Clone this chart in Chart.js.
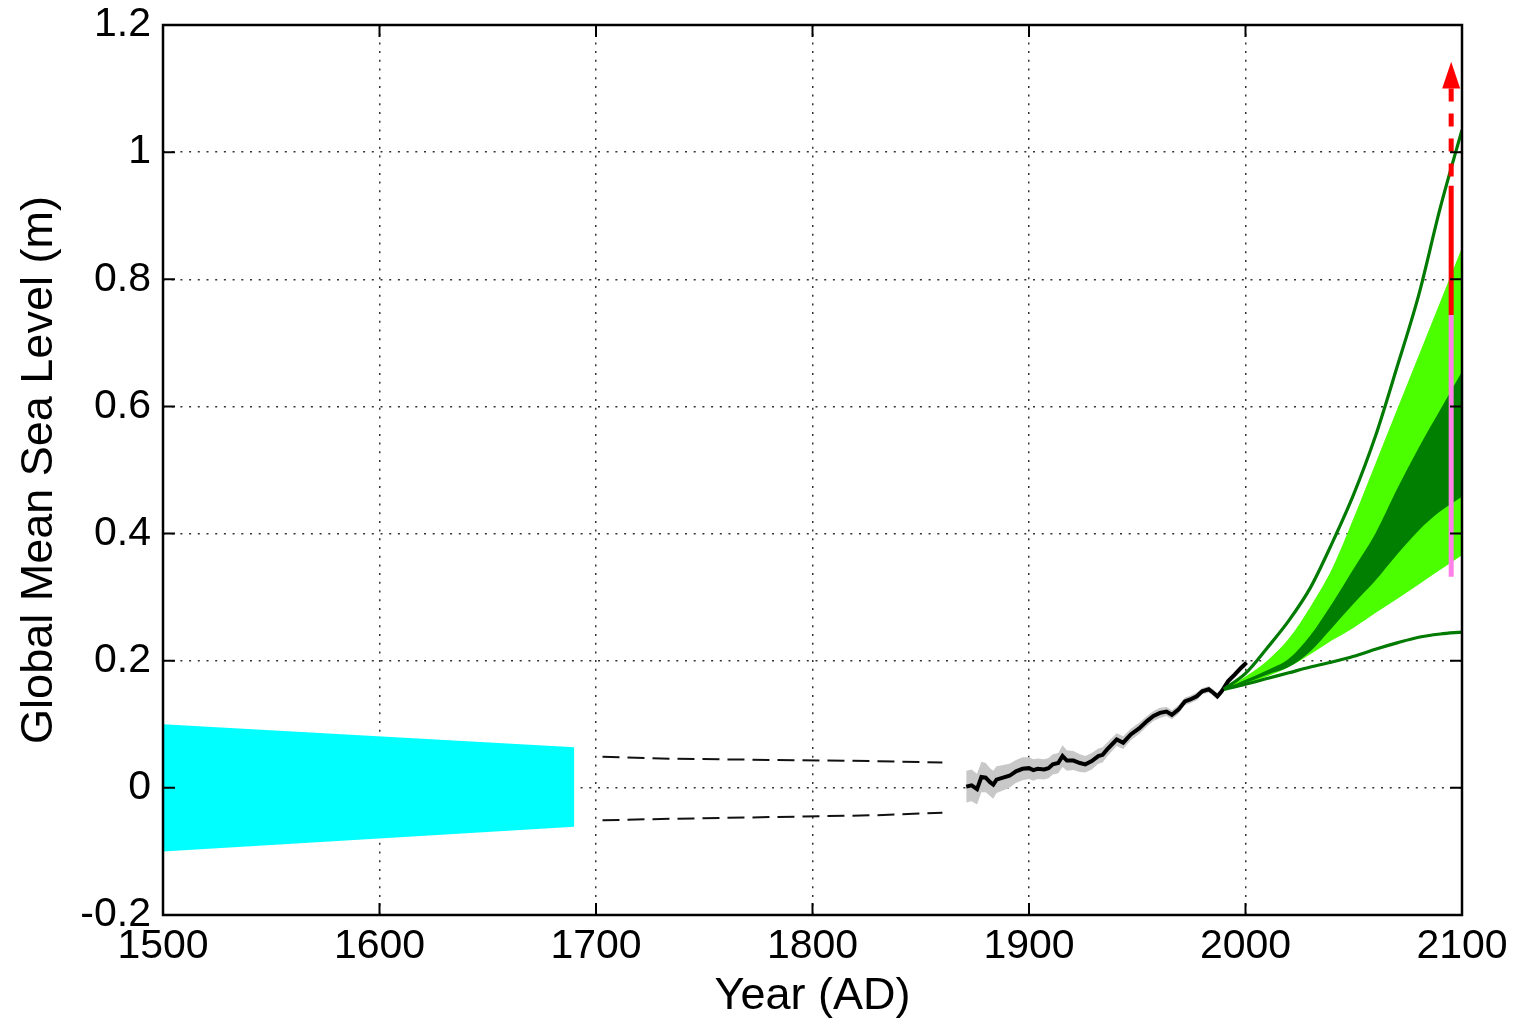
<!DOCTYPE html>
<html><head><meta charset="utf-8">
<script src="https://cdn.jsdelivr.net/npm/chart.js@4.4.1/dist/chart.umd.min.js"></script>
<style>html,body{margin:0;padding:0;background:#fff;}canvas{display:block;}</style>
</head><body>
<canvas id="c" width="1513" height="1028"></canvas>
<script>
// ---- axis ticks ----
const xTicks = [1500, 1600, 1700, 1800, 1900, 2000, 2100];
const xTickLabels = ['1500', '1600', '1700', '1800', '1900', '2000', '2100'];
const yTicks = [-0.2, 0, 0.2, 0.4, 0.6, 0.8, 1.0, 1.2];
const yTickLabels = ['-0.2', '0', '0.2', '0.4', '0.6', '0.8', '1', '1.2'];

// ---- 1500-1690 band (cyan) ----
const cyanYears = [1500, 1690];
const cyanUpper = [0.100, 0.064];
const cyanLower = [-0.100, -0.061];

// ---- 1700-1860 dashed bounds ----
const dashYears = [1703, 1730, 1780, 1830, 1860];
const dashUpper = [0.049, 0.046, 0.044, 0.042, 0.040];
const dashLower = [-0.051, -0.049, -0.046, -0.043, -0.039];

// ---- tide gauge record ----
const tideYears = [1871,1873.5,1876,1878,1880,1882,1883.5,1885,1888,1891,1894,1897,1900,1902,1904,1907,1909,1911,1913.5,1915.5,1917.5,1920.5,1923.5,1926,1929,1932,1934,1936,1940.5,1943.5,1947,1951,1954.5,1957.5,1960.5,1963.5,1966,1969,1972,1974.5,1977.5,1980,1983,1985,1987,1989,1992,1995,1998,2000.5];
const tideLevel = [0.002,0.004,-0.002,0.017,0.016,0.009,0.005,0.013,0.016,0.019,0.026,0.030,0.031,0.028,0.030,0.029,0.031,0.037,0.039,0.050,0.043,0.043,0.039,0.037,0.042,0.050,0.052,0.060,0.076,0.071,0.084,0.094,0.105,0.113,0.118,0.120,0.115,0.123,0.136,0.139,0.144,0.152,0.155,0.150,0.144,0.152,0.168,0.178,0.189,0.197];
const tideErr = [0.025,0.025,0.024,0.024,0.023,0.022,0.022,0.021,0.020,0.019,0.018,0.018,0.017,0.017,0.016,0.016,0.016,0.016,0.016,0.017,0.016,0.015,0.014,0.013,0.013,0.012,0.012,0.011,0.010,0.010,0.009,0.009,0.008,0.008,0.008,0.007,0.007,0.007,0.006,0.006,0.006,0.005,0.005,0.005,0.005,0.005,0.005,0.005,0.005,0.005];

// ---- projections 1990-2100 ----
const projYears = [1990, 2000, 2010, 2020, 2030, 2040, 2050, 2060, 2070, 2080, 2090, 2100];
const projHigh   = [0.155, 0.180, 0.220, 0.263, 0.315, 0.385, 0.462, 0.553, 0.662, 0.775, 0.913, 1.035];
const lightUpper = [0.155, 0.175, 0.200, 0.235, 0.285, 0.345, 0.425, 0.510, 0.595, 0.680, 0.765, 0.850];
const darkUpper  = [0.155, 0.170, 0.185, 0.203, 0.240, 0.290, 0.345, 0.400, 0.470, 0.535, 0.595, 0.655];
const darkLower  = [0.155, 0.165, 0.178, 0.190, 0.215, 0.252, 0.290, 0.326, 0.367, 0.405, 0.435, 0.458];
const lightLower = [0.155, 0.163, 0.175, 0.190, 0.210, 0.232, 0.252, 0.275, 0.297, 0.320, 0.343, 0.366];
const projLow    = [0.155, 0.163, 0.172, 0.181, 0.190, 0.198, 0.207, 0.218, 0.228, 0.237, 0.242, 0.245];

// ---- 2095 bar and arrow ----
const barYear = 2095;
const pinkRange = [0.332, 0.744];
const redRange = [0.744, 0.947];
const redDashRange = [1.100, 0.947];
const arrowTip = 1.142;

const FONT = "'Liberation Sans', Arial, Helvetica, sans-serif";
const pts = (xs, ys) => xs.map((x, i) => ({x: x, y: ys[i]}));
const vbar = (yr, r) => r.map(v => ({x: yr, y: v}));

const base = {pointRadius: 0, pointHoverRadius: 0, tension: 0, fill: false};
const datasets = [
  /*0*/ {...base, data: pts(cyanYears, cyanUpper), borderWidth: 0, backgroundColor: '#00ffff', fill: {target: 1}, order: 20},
  /*1*/ {...base, data: pts(cyanYears, cyanLower), borderWidth: 0, order: 20},
  /*2*/ {...base, data: pts(projYears, lightUpper), borderWidth: 0, backgroundColor: '#4cff00', fill: {target: 3}, cubicInterpolationMode: 'monotone', order: 19},
  /*3*/ {...base, data: pts(projYears, lightLower), borderWidth: 0, cubicInterpolationMode: 'monotone', order: 19},
  /*4*/ {...base, data: pts(projYears, darkUpper), borderWidth: 0, backgroundColor: '#007f00', fill: {target: 5}, cubicInterpolationMode: 'monotone', order: 18},
  /*5*/ {...base, data: pts(projYears, darkLower), borderWidth: 0, cubicInterpolationMode: 'monotone', order: 18},
  /*6*/ {...base, data: pts(tideYears, tideLevel.map((v, i) => v + tideErr[i])), borderWidth: 0, backgroundColor: '#c8c8c8', fill: {target: 7}, order: 17},
  /*7*/ {...base, data: pts(tideYears, tideLevel.map((v, i) => v - tideErr[i])), borderWidth: 0, order: 17},
  /*8*/ {...base, data: pts(tideYears, tideLevel), borderColor: '#000000', borderWidth: 4, order: 5},
  /*9*/ {...base, data: pts(dashYears, dashUpper), borderColor: '#111111', borderWidth: 2, borderDash: [17, 8], order: 5},
  /*10*/{...base, data: pts(dashYears, dashLower), borderColor: '#111111', borderWidth: 2, borderDash: [17, 8], order: 5},
  /*11*/{...base, data: pts(projYears, projHigh), borderColor: '#007a00', borderWidth: 3.2, cubicInterpolationMode: 'monotone', order: 4},
  /*12*/{...base, data: pts(projYears, projLow), borderColor: '#007a00', borderWidth: 3.2, cubicInterpolationMode: 'monotone', order: 4},
  /*13*/{...base, data: vbar(barYear, pinkRange), borderColor: '#ff80e8', borderWidth: 5, borderCapStyle: 'butt', order: 2},
  /*14*/{...base, data: vbar(barYear, redRange), borderColor: '#ff0000', borderWidth: 5, borderCapStyle: 'butt', order: 1},
  /*15*/{...base, data: vbar(barYear, redDashRange), borderColor: '#ff0000', borderWidth: 5, borderDash: [13, 12], borderCapStyle: 'butt', order: 1}
];

const framePlugin = {
  id: 'frame',
  afterDatasetsDraw(chart) {
    const {ctx, chartArea: a, scales: {x, y}} = chart;
    ctx.save();
    // arrow head
    const ax = x.getPixelForValue(barYear);
    const tipY = y.getPixelForValue(arrowTip);
    const baseY = y.getPixelForValue(redDashRange[0]);
    ctx.fillStyle = '#ff0000';
    ctx.beginPath();
    ctx.moveTo(ax, tipY);
    ctx.lineTo(ax - 9, baseY);
    ctx.lineTo(ax + 9, baseY);
    ctx.closePath();
    ctx.fill();
    // box
    ctx.strokeStyle = '#000';
    ctx.lineWidth = 2.5;
    ctx.strokeRect(a.left, a.top, a.right - a.left, a.bottom - a.top);
    // inward ticks
    const L = 12;
    ctx.lineWidth = 2;
    ctx.beginPath();
    xTicks.forEach(v => {
      const p = x.getPixelForValue(v);
      ctx.moveTo(p, a.bottom); ctx.lineTo(p, a.bottom - L);
      ctx.moveTo(p, a.top); ctx.lineTo(p, a.top + L);
    });
    yTicks.forEach(v => {
      const p = y.getPixelForValue(v);
      ctx.moveTo(a.left, p); ctx.lineTo(a.left + L, p);
      ctx.moveTo(a.right, p); ctx.lineTo(a.right - L, p);
    });
    ctx.stroke();
    ctx.restore();
  }
};

new Chart(document.getElementById('c'), {
  type: 'line',
  data: {datasets: datasets},
  plugins: [framePlugin],
  options: {
    responsive: false,
    animation: false,
    events: [],
    layout: {padding: {top: 25, right: 51, left: 0, bottom: 0}},
    plugins: {legend: {display: false}, tooltip: {enabled: false}},
    scales: {
      x: {
        type: 'linear', min: 1500, max: 2100,
        afterBuildTicks: s => { s.ticks = xTicks.map(v => ({value: v})); },
        afterFit: s => { s.height = 113; s.paddingLeft = 0; s.paddingRight = 0; },
        grid: {color: '#333', lineWidth: 1.5, drawTicks: false},
        border: {display: false, dash: [2, 6.7]},
        ticks: {color: '#000', font: {family: FONT, size: 41}, padding: 7, maxRotation: 0, autoSkip: false,
                callback: (v, i) => xTickLabels[i]},
        title: {display: true, text: 'Year (AD)', color: '#000', font: {family: FONT, size: 45}, padding: {top: 0, bottom: 4}}
      },
      y: {
        type: 'linear', min: -0.2, max: 1.2,
        afterBuildTicks: s => { s.ticks = yTicks.map(v => ({value: v})); },
        afterFit: s => { s.width = 163; s.paddingTop = 0; s.paddingBottom = 0; },
        grid: {color: '#333', lineWidth: 1.5, drawTicks: false},
        border: {display: false, dash: [2, 6.7]},
        ticks: {color: '#000', font: {family: FONT, size: 41}, padding: 12, autoSkip: false,
                callback: (v, i) => yTickLabels[i]},
        title: {display: true, text: 'Global Mean Sea Level (m)', color: '#000', font: {family: FONT, size: 45}, padding: {top: 13, bottom: 0}}
      }
    }
  }
});
</script>
</body></html>
